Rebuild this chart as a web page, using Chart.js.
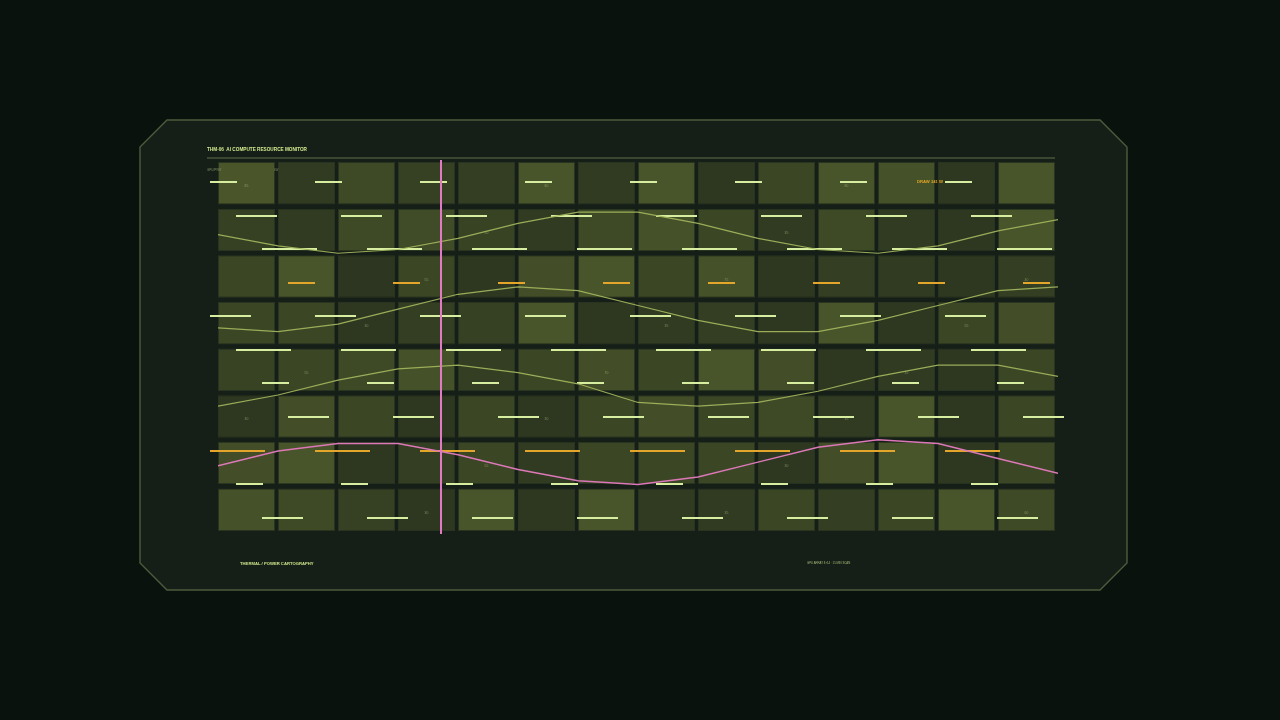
<!DOCTYPE html>
<html>
<head>
<meta charset="utf-8">
<title>THM-06 AI Compute Resource Monitor</title>
<script src="https://cdn.jsdelivr.net/npm/chart.js@4.4.1/dist/chart.umd.min.js"></script>
<style>
  html, body { margin:0; padding:0; background:#0a120d; }
  #wrap { position:relative; width:1280px; height:720px; overflow:hidden; font-family:"Liberation Sans", Arial, sans-serif; }
  #frame, #thm { position:absolute; left:0; top:0; }
  .txt { position:absolute; white-space:nowrap; line-height:1; z-index:5; }
  .title { left:207px; top:147.5px; font-size:4.7px; font-weight:bold; color:#d4ea8e; }
  .rule { position:absolute; left:207px; top:157px; width:848px; height:1.5px; background:#3a4630; }
  .tiny { font-size:3px; color:#7d8a62; }
  .draw { left:917px; top:180px; font-size:4.2px; font-weight:bold; color:#e0a522; }
  .foot { left:240px; top:561.5px; font-size:4.2px; font-weight:bold; color:#cfe48a; }
  .foot2 { left:807px; top:562px; font-size:2.8px; color:#a9b878; }
</style>
</head>
<body>
<div id="wrap">
  <svg id="frame" width="1280" height="720">
    <polygon points="167,120 1100,120 1127,147 1127,563 1100,590 167,590 140,563 140,147"
             fill="#161f17" stroke="#4d5c3c" stroke-width="1.4"/>
  </svg>
  <div class="txt title">THM-06&nbsp; AI COMPUTE RESOURCE MONITOR</div>
  <div class="rule"></div>
  <div class="txt tiny" style="left:207px;top:168.5px;">GPU/PWR</div>
  <div class="txt tiny" style="left:274px;top:168.5px;">kW</div>
  <div class="txt draw">DRAW 341 W</div>
  <div class="txt foot">THERMAL / POWER CARTOGRAPHY</div>
  <div class="txt foot2">GPU ARRAY 8×14 · 15 MIN SCAN</div>
  <canvas id="thm" width="1280" height="720"></canvas>
</div>

<script>
// heat grid: 8 racks (top to bottom) x 14 nodes
const ROWS = 8;
const COLS = 14;
const heatR1 = [85, 35, 60, 45, 40, 80, 35, 80, 30, 55, 80, 75, 30, 80];
const heatR2 = [45, 35, 60, 65, 50, 35, 60, 75, 55, 35, 60, 35, 30, 80];
const heatR3 = [55, 80, 25, 55, 30, 70, 80, 55, 75, 30, 40, 35, 30, 40];
const heatR4 = [55, 55, 30, 40, 45, 80, 30, 35, 40, 30, 80, 30, 55, 70];
const heatR5 = [50, 55, 60, 75, 40, 55, 70, 55, 80, 70, 30, 35, 30, 55];
const heatR6 = [30, 70, 55, 30, 55, 30, 55, 70, 55, 60, 35, 80, 30, 55];
const heatR7 = [70, 80, 30, 40, 55, 35, 55, 55, 55, 30, 70, 80, 30, 55];
const heatR8 = [75, 60, 45, 30, 80, 30, 80, 35, 35, 55, 40, 55, 80, 60];
const heatRows = [heatR1, heatR2, heatR3, heatR4, heatR5, heatR6, heatR7, heatR8];

// 15 samples across the grid, 0-100 scale
const sampleX  = [0, 1, 2, 3, 4, 5, 6, 7, 8, 9, 10, 11, 12, 13, 14];
const utilA    = [80, 77, 75, 76, 79, 83, 86, 86, 83, 79, 76, 75, 77, 81, 84];
const utilB    = [55, 54, 56, 60, 64, 66, 65, 61, 57, 54, 54, 57, 61, 65, 66];
const utilC    = [34, 37, 41, 44, 45, 43, 40, 35, 34, 35, 38, 42, 45, 45, 42];
const powerD   = [18, 22, 24, 24, 21, 17, 14, 13, 15, 19, 23, 25, 24, 20, 16];
const cursorX  = 3.72;

const DARK = [41, 51, 31], BRIGHT = [77, 89, 43];
function heatColor(v){
  const t = Math.max(0, Math.min(1, (v - 20) / 70));
  const c = DARK.map((d,i)=> Math.round(d + (BRIGHT[i]-d)*t));
  return `rgb(${c[0]},${c[1]},${c[2]})`;
}

// one floating-bar dataset per rack row
const cellSets = heatRows.map((vals, r)=>{
  const yBase = ROWS - 1 - r;
  return {
    type: 'bar',
    label: 'rack ' + (r+1),
    data: vals.map((v,c)=>({ x: c + 0.475, y: [yBase + 0.045, yBase + 0.955], v })),
    backgroundColor: vals.map(heatColor),
    borderColor: 'rgba(130,150,80,0.18)',
    borderWidth: 1,
    borderSkipped: false,
    grouped: false,
    barPercentage: 0.95,
    categoryPercentage: 1,
    yAxisID: 'y',
    order: 10
  };
});

function lineSet(label, vals, color, width, order){
  return {
    type: 'line', label,
    data: sampleX.map((x,i)=>({ x, y: vals[i] })),
    borderColor: color, borderWidth: width,
    pointRadius: 0, tension: 0, fill: false,
    yAxisID: 'yv', order
  };
}

let decoDone = false;
const deco = {
  id: 'deco',
  beforeDraw(){ decoDone = false; },
  beforeDatasetDraw(chart, args){
    if (decoDone || args.meta.type !== 'line') return;
    decoDone = true;
    const ctx = chart.ctx, ca = chart.chartArea;
    const xs = chart.scales.x, ys = chart.scales.y;
    // tiny cell readouts
    ctx.save();
    ctx.font = '3.4px "Liberation Sans", Arial, sans-serif';
    ctx.fillStyle = 'rgba(185,198,140,0.55)';
    ctx.textAlign = 'center'; ctx.textBaseline = 'middle';
    heatRows.forEach((vals,r)=> vals.forEach((v,c)=>{
      if ((r + c) % 5 !== 0) return;
      ctx.fillText(String(v), xs.getPixelForValue(c + 0.475), ys.getPixelForValue(ROWS - 1 - r + 0.5) + 3);
    }));
    // scan ticks across the board
    const pitch = ca.width / 8, step = ca.height * 0.09;
    const widths = [27, 41, 55];
    ctx.lineWidth = 2; ctx.lineCap = 'butt';
    for (let i = 0; i < 11; i++){
      const y = Math.round(ca.top + 22 + i*step);
      const x0 = ca.left - 8 + (i % 4) * 26;
      ctx.strokeStyle = (i % 5 === 3) ? '#e3a52a' : '#d7eea0';
      ctx.beginPath();
      for (let k = 0; k < 8; k++){
        const x = x0 + k*pitch;
        ctx.moveTo(x, y); ctx.lineTo(x + widths[i % 3], y);
      }
      ctx.stroke();
    }
    ctx.restore();
  },
  afterDatasetsDraw(chart){
    const ctx = chart.ctx, ca = chart.chartArea;
    const x = Math.round(chart.scales.x.getPixelForValue(cursorX));
    ctx.save();
    ctx.strokeStyle = '#e07ac2'; ctx.lineWidth = 2;
    ctx.beginPath(); ctx.moveTo(x, ca.top); ctx.lineTo(x, ca.bottom + 1); ctx.stroke();
    ctx.restore();
  }
};

new Chart(document.getElementById('thm'), {
  type: 'bar',
  data: {
    datasets: [
      ...cellSets,
      lineSet('util A', utilA, 'rgba(160,178,92,0.95)', 1.2, 3),
      lineSet('util B', utilB, 'rgba(160,178,92,0.95)', 1.2, 2),
      lineSet('util C', utilC, 'rgba(160,178,92,0.95)', 1.2, 1),
      lineSet('power', powerD, '#dc78b8', 1.5, 0)
    ]
  },
  options: {
    responsive: false,
    animation: false,
    layout: { padding: { left: 218, top: 160, right: 222, bottom: 187 } },
    plugins: { legend: { display:false }, tooltip: { enabled:false } },
    scales: {
      x:  { type:'linear', min:0, max:COLS, offset:false, display:false },
      y:  { type:'linear', min:0, max:ROWS, display:false },
      yv: { type:'linear', min:0, max:100, display:false }
    }
  },
  plugins: [deco]
});
</script>
</body>
</html>
